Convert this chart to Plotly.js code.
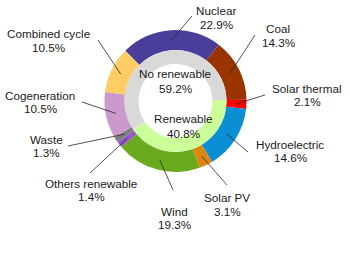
<!DOCTYPE html>
<html><head><meta charset="utf-8">
<script src="https://cdn.plot.ly/plotly-3.0.1.min.js"></script>
<style>html,body{margin:0;padding:0;background:#fff}#chart{width:350px;height:265px}</style>
</head><body><div id="chart"></div>
<script>
// ---- data ----
const sourceLabels = ['Nuclear','Coal','Solar thermal','Hydroelectric','Solar PV','Wind','Others renewable','Waste','Cogeneration','Combined cycle'];
const sourceValues = [22.9, 14.3, 2.1, 14.6, 3.1, 19.3, 1.4, 1.3, 10.5, 10.5];
const sourceColors = ['#4a3e9b','#993300','#ff0000','#0b8fd4','#de870e','#6aaa1f','#9955cc','#7f7f7f','#cc99cc','#ffcc66'];
const groupLabels = ['Renewable','No renewable'];
const groupValues = [40.8, 59.2];
const groupColors = ['#ccff99','#d9d9d9'];

// ---- layout choices (pixels) ----
const W = 350, H = 265;
const cx = 175.5, cy = 101, R = 71, R1 = 51, R0 = 37;
const startAngle = -45;
const labelPos = [[216,17.5],[278,35.5],[307,95],[290,151],[227,204.5],[174,218],[91,190],[46,146],[40,102],[48,40.5]];
const leaderEnd = [[192,16],[255,35],[265,95],[248,152],[227,185],[173,190],[90,173],[68,146],[82,102],[98,40]];
const groupLabelPos = [[183,125.5],[175,80.5]];
const lineGap = 13.5;
const font = {family: 'Liberation Sans, Arial, sans-serif', size: 11.7, color: '#1a1a1a'};

const total = sourceValues.reduce((a,b)=>a+b,0);
// inner ring starts where the first renewable source starts
const renewStartIdx = 2;
const innerRotation = startAngle + sourceValues.slice(0, renewStartIdx).reduce((a,b)=>a+b,0) / total * 360;

function dom(r) {
  return {x: [(cx - r) / W, (cx + r) / W], y: [(H - cy - r) / H, (H - cy + r) / H]};
}
const px = x => x / W, py = y => (H - y) / H;

const outer = {
  type: 'pie', labels: sourceLabels, values: sourceValues, sort: false, direction: 'clockwise',
  rotation: startAngle, hole: R1 / R, domain: dom(R), textinfo: 'none', hoverinfo: 'none',
  marker: {colors: sourceColors, line: {width: 0}}, showlegend: false
};
const inner = {
  type: 'pie', labels: groupLabels, values: groupValues, sort: false, direction: 'clockwise',
  rotation: innerRotation, hole: R0 / R1, domain: dom(R1), textinfo: 'none', hoverinfo: 'none',
  marker: {colors: groupColors, line: {width: 0}}, showlegend: false
};

const annotations = [];
const shapes = [];
function addText(x, y, t) {
  annotations.push({xref: 'paper', yref: 'paper', x: px(x), y: py(y), xanchor: 'center', yanchor: 'middle',
    showarrow: false, text: t, font: font, borderpad: 0});
}
let cum = 0;
const rm = (R + R1) / 2;
sourceValues.forEach((v, i) => {
  const mid = (startAngle + (cum + v / 2) / total * 360) * Math.PI / 180;
  cum += v;
  const xs = cx + rm * Math.sin(mid), ys = cy - rm * Math.cos(mid);
  shapes.push({type: 'line', xref: 'paper', yref: 'paper', x0: px(xs), y0: py(ys),
    x1: px(leaderEnd[i][0]), y1: py(leaderEnd[i][1]), line: {color: '#262626', width: 0.8}});
  addText(labelPos[i][0], labelPos[i][1] - lineGap / 2, sourceLabels[i]);
  addText(labelPos[i][0], labelPos[i][1] + lineGap / 2, v.toFixed(1) + '%');
});
groupLabels.forEach((g, i) => {
  addText(groupLabelPos[i][0], groupLabelPos[i][1] - 7.5, g);
  addText(groupLabelPos[i][0], groupLabelPos[i][1] + 7.5, groupValues[i].toFixed(1) + '%');
});

Plotly.newPlot('chart', [outer, inner], {
  width: W, height: H, margin: {l: 0, r: 0, t: 0, b: 0},
  paper_bgcolor: '#ffffff', plot_bgcolor: '#ffffff', annotations: annotations, shapes: shapes
}, {staticPlot: true});
</script></body></html>
